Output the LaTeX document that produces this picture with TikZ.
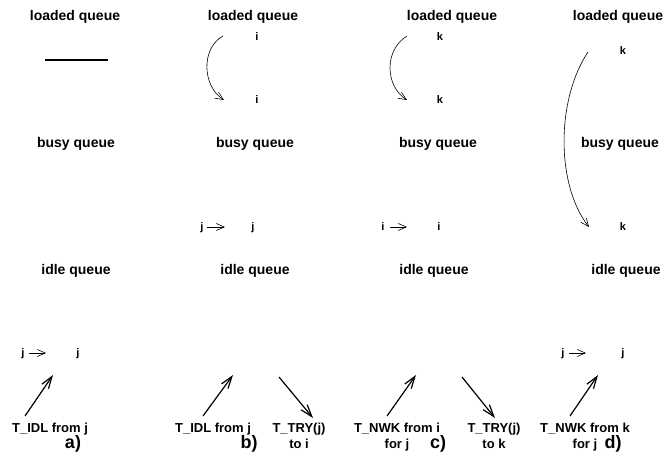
\documentclass[tikz,border=0pt]{standalone}
\usepackage{fontspec}
\setmainfont{Liberation Sans}
\usetikzlibrary{arrows.meta}
\tikzset{
  queue/.style={anchor=base, inner sep=1pt, font=\fontsize{14}{16}\selectfont\bfseries},
  proc/.style={anchor=base, inner sep=0pt, font=\fontsize{11}{13}\selectfont\bfseries},
  msg/.style={anchor=north, inner sep=0pt, align=center, font=\fontsize{13}{16}\selectfont\bfseries},
  tag/.style={anchor=base, inner sep=0pt, font=\fontsize{18}{20}\selectfont\bfseries},
  move/.style={-{Straight Barb[length=8pt,width=7pt]}, line width=0.6pt},
  send/.style={-{Straight Barb[length=12pt,width=8pt]}, line width=1.2pt}
}
\begin{document}
\begin{tikzpicture}[x=1pt,y=-1pt]
    \useasboundingbox (0,0) rectangle (665,460);
    % a)
    \node[queue] (La) at (75,21) {loaded queue};
    \coordinate (Ea1) at (45,60);
    \coordinate (Ea2) at (108,60);
    \draw[line width=1.3pt] (Ea1) -- (Ea2);
    \node[queue] (Ba) at (76,148) {busy queue};
    \node[queue] (Ia) at (76,274) {idle queue};
    \node[proc] (ja1) at (23,356) {j};
    \node[proc] (ja2) at (78,356) {j};
    \coordinate (ja1e) at (29,353);
    \coordinate (ja2w) at (46,353);
    \draw[move] (ja1e) -- (ja2w);
    \node[msg] (Ma) at (50,423) {T\_IDL from j};
    \coordinate (Ma1) at (25,416);
    \coordinate (Ma2) at (53,375);
    \draw[send] (Ma1) -- (Ma2);
    \node[tag] (Ta) at (73,448) {a)};
    % b)
    \node[queue] (Lb) at (253,21) {loaded queue};
    \node[proc] (ib1) at (257,41) {i};
    \node[proc] (ib2) at (257,103) {i};
    \coordinate (Cb1) at (223,36);
    \coordinate (Cb2) at (224,100);
    \draw[move] (Cb1) .. controls (201,48) and (202,86) .. (Cb2);
    \node[queue] (Bb) at (255,148) {busy queue};
    \node[proc] (jb1) at (202,230) {j};
    \node[proc] (jb2) at (253,230) {j};
    \coordinate (jb1e) at (207,227);
    \coordinate (jb2w) at (225,227);
    \draw[move] (jb1e) -- (jb2w);
    \node[queue] (Ib) at (255,274) {idle queue};
    \node[msg] (Mb) at (213,423) {T\_IDL from j};
    \coordinate (Mb1) at (203,416);
    \coordinate (Mb2) at (233,375);
    \draw[send] (Mb1) -- (Mb2);
    \node[msg] (Nb) at (299,423) {T\_TRY(j)\\to i};
    \coordinate (Nb1) at (279,377);
    \coordinate (Nb2) at (313,418);
    \draw[send] (Nb1) -- (Nb2);
    \node[tag] (Tb) at (249,448) {b)};
    % c)
    \node[queue] (Lc) at (452,21) {loaded queue};
    \node[proc] (kc1) at (440,41) {k};
    \node[proc] (kc2) at (440,104) {k};
    \coordinate (Cc1) at (407,36);
    \coordinate (Cc2) at (407,100);
    \draw[move] (Cc1) .. controls (384,50) and (385,86) .. (Cc2);
    \node[queue] (Bc) at (438,148) {busy queue};
    \node[proc] (ic1) at (383,230) {i};
    \node[proc] (ic2) at (439,230) {i};
    \coordinate (ic1e) at (390,227);
    \coordinate (ic2w) at (407,227);
    \draw[move] (ic1e) -- (ic2w);
    \node[queue] (Ic) at (434,274) {idle queue};
    \node[msg] (Mc) at (397,423) {T\_NWK from i\\for j};
    \coordinate (Mc1) at (387,416);
    \coordinate (Mc2) at (416,375);
    \draw[send] (Mc1) -- (Mc2);
    \node[msg] (Nc) at (494,423) {T\_TRY(j)\\to k};
    \coordinate (Nc1) at (462,377);
    \coordinate (Nc2) at (495,418);
    \draw[send] (Nc1) -- (Nc2);
    \node[tag] (Tc) at (438,448) {c)};
    % d)
    \node[queue] (Ld) at (618,21) {loaded queue};
    \node[proc] (kd1) at (623,55) {k};
    \node[proc] (kd2) at (623,230) {k};
    \coordinate (Cd1) at (588,52);
    \coordinate (Cd2) at (589,227);
    \draw[move] (Cd1) .. controls (556,100) and (556,185) .. (Cd2);
    \node[queue] (Bd) at (620,148) {busy queue};
    \node[queue] (Id) at (626,274) {idle queue};
    \node[proc] (jd1) at (563,356) {j};
    \node[proc] (jd2) at (623,356) {j};
    \coordinate (jd1e) at (569,353);
    \coordinate (jd2w) at (586,353);
    \draw[move] (jd1e) -- (jd2w);
    \node[msg] (Md) at (585,423) {T\_NWK from k\\for j};
    \coordinate (Md1) at (570,416);
    \coordinate (Md2) at (598,375);
    \draw[send] (Md1) -- (Md2);
    \node[tag] (Td) at (613,448) {d)};
\end{tikzpicture}
\end{document}
